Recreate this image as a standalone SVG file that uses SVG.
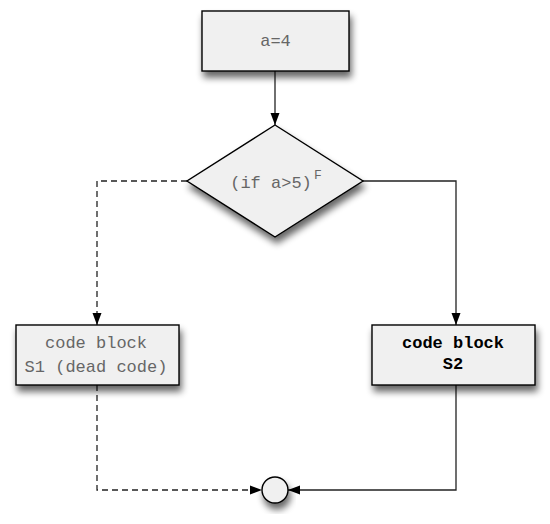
<svg xmlns="http://www.w3.org/2000/svg" width="550" height="524" viewBox="0 0 550 524">
<defs>
<filter id="sh" x="-30%" y="-30%" width="160%" height="170%">
<feGaussianBlur in="SourceAlpha" stdDeviation="3.5"/>
<feOffset dx="2" dy="6" result="b"/>
<feComponentTransfer><feFuncA type="linear" slope="0.6"/></feComponentTransfer>
<feMerge><feMergeNode/><feMergeNode in="SourceGraphic"/></feMerge>
</filter>
<marker id="ah" viewBox="0 0 12 10" refX="12" refY="5" markerWidth="12" markerHeight="10" markerUnits="userSpaceOnUse" orient="auto">
<path d="M0,0.5 L12,5 L0,9.5 Z" fill="#000"/>
</marker>
</defs>
<style>
.node{fill:#f0f0f0;stroke:#000;stroke-width:1.4}
.t{font-family:"Courier New","Liberation Mono",monospace;font-size:17px;fill:#666;text-anchor:middle}
.b{font-family:"Courier New","Liberation Mono",monospace;font-size:17px;fill:#000;font-weight:bold;text-anchor:middle}
.e{fill:none;stroke:#222;stroke-width:1.3}
.d{stroke-dasharray:6,4}
</style>
<g id="connectors">
<path class="e" d="M275,71 L275,125" marker-end="url(#ah)"/>
<path class="e d" d="M187,181 L97,181 L97,325" marker-end="url(#ah)"/>
<path class="e" d="M363,181 L456,181 L456,325" marker-end="url(#ah)"/>
<path class="e d" d="M97,385 L97,490 L262,490" marker-end="url(#ah)"/>
<path class="e" d="M456,385 L456,490 L288,490" marker-end="url(#ah)"/>
</g>
<g id="n1">
<rect class="node" x="202" y="11" width="147" height="60" filter="url(#sh)"/>
<text class="t" x="275.5" y="46">a=4</text>
</g>
<g id="n2">
<polygon class="node" points="275,125 363,181 275,237 187,181" filter="url(#sh)"/>
<text class="t" x="271" y="188" font-size="16">(if a&gt;5)</text>
<text class="t" x="318" y="179" style="font-size:13px">F</text>
</g>
<g id="n3">
<rect class="node" x="16" y="325" width="163" height="60" filter="url(#sh)"/>
<text class="t" x="96" y="348">code block</text>
<text class="t" x="96" y="372">S1 (dead code)</text>
</g>
<g id="n4">
<rect class="node" x="372" y="325" width="163" height="60" filter="url(#sh)"/>
<text class="b" x="453" y="348">code block</text>
<text class="b" x="453" y="369">S2</text>
</g>
<g id="n5">
<circle class="node" cx="275" cy="490" r="13" filter="url(#sh)"/>
</g>
</svg>
